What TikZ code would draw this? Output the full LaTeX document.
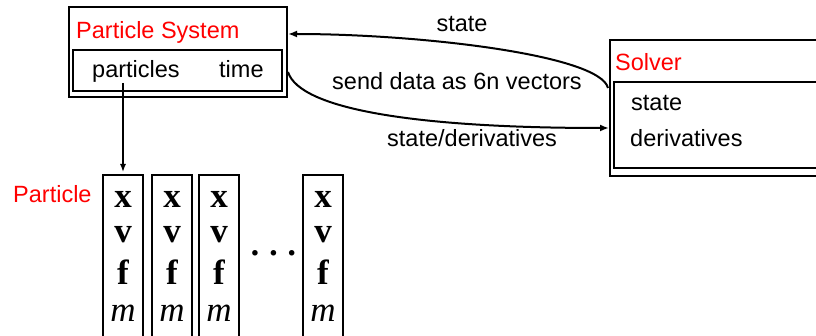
\documentclass[tikz,border=0pt]{standalone}
\usepackage{fontspec}
\setmainfont{Liberation Sans}
\newfontfamily\timesfam{Liberation Serif}
\usetikzlibrary{arrows.meta}
\definecolor{lblred}{RGB}{255,0,0}
\begin{document}
\begin{tikzpicture}[x=1pt,y=-1pt,
  box/.style={draw, line width=1.4pt, rectangle, inner sep=0pt, outer sep=0pt, anchor=north west},
  lbl/.style={font=\fontsize{23.5}{28}\selectfont, inner sep=0pt, anchor=base west},
  redlbl/.style={lbl, text=lblred},
  var/.style={font=\fontsize{35}{40}\selectfont\timesfam, inner sep=0pt, anchor=base},
  arr/.style={line width=2pt, -{Latex[length=9pt,width=7pt]}},
  thinarr/.style={line width=1.4pt, -{Latex[length=8pt,width=6pt]}}]
\useasboundingbox (0,0) rectangle (816,336);
\clip (0,0) rectangle (816,336);
% Particle System boxes
\node[box, minimum width=218pt, minimum height=90pt] (ps) at (69,7) {};
\node[box, minimum width=209pt, minimum height=41pt] (psin) at (73,50) {};
\node[redlbl] (pstitle) at (76,39) {Particle System};
\node[lbl] (particles) at (92,78) {particles};
\node[lbl] (time) at (219,78) {time};
% Solver boxes
\node[box, minimum width=240pt, minimum height=136pt] (sv) at (610,40) {};
\node[box, minimum width=236pt, minimum height=86pt] (svin) at (614,82) {};
\node[redlbl] (svtitle) at (615,71) {Solver};
\node[lbl] (svstate) at (631,111) {state};
\node[lbl] (svderiv) at (630,147) {derivatives};
% connector labels
\node[lbl, anchor=base] (lstate) at (462,32) {state};
\node[lbl] (lsend) at (332,90) {send data as 6n vectors};
\node[lbl] (lsd) at (387,147) {state/derivatives};
% Particle label and boxes
\node[redlbl] (plbl) at (13,203) {Particle};
\foreach \n/\x in {p1/103, p2/152, p3/199, p4/303} {
  \node[box, minimum width=40pt, minimum height=175pt] (\n) at (\x,175) {};
  \node[var] (\n x) at (\x+20,208) {\bfseries x};
  \node[var] (\n v) at (\x+20,243) {\bfseries v};
  \node[var] (\n f) at (\x+20,285) {\bfseries f};
  \node[var] (\n m) at (\x+20,322) {\itshape m};
}
\node[font=\fontsize{34}{40}\selectfont\timesfam\bfseries, inner sep=0pt, anchor=base] (dots) at (273.5,265) {·\hspace{7pt}·\hspace{7pt}·};
% connectors
\coordinate (upstart) at (608,88);
\coordinate (upend) at (288,34);
\coordinate (lowstart) at (288,72);
\coordinate (lowend) at (609,128);
\coordinate (pstart) at (123,83);
\draw[arr] (upstart) .. controls (600,55) and (420,34) .. (upend);
\draw[arr] (lowstart) .. controls (300,110) and (420,128) .. (lowend);
\draw[thinarr] (pstart) -- ([yshift=3pt]p1.north);
\end{tikzpicture}
\end{document}
